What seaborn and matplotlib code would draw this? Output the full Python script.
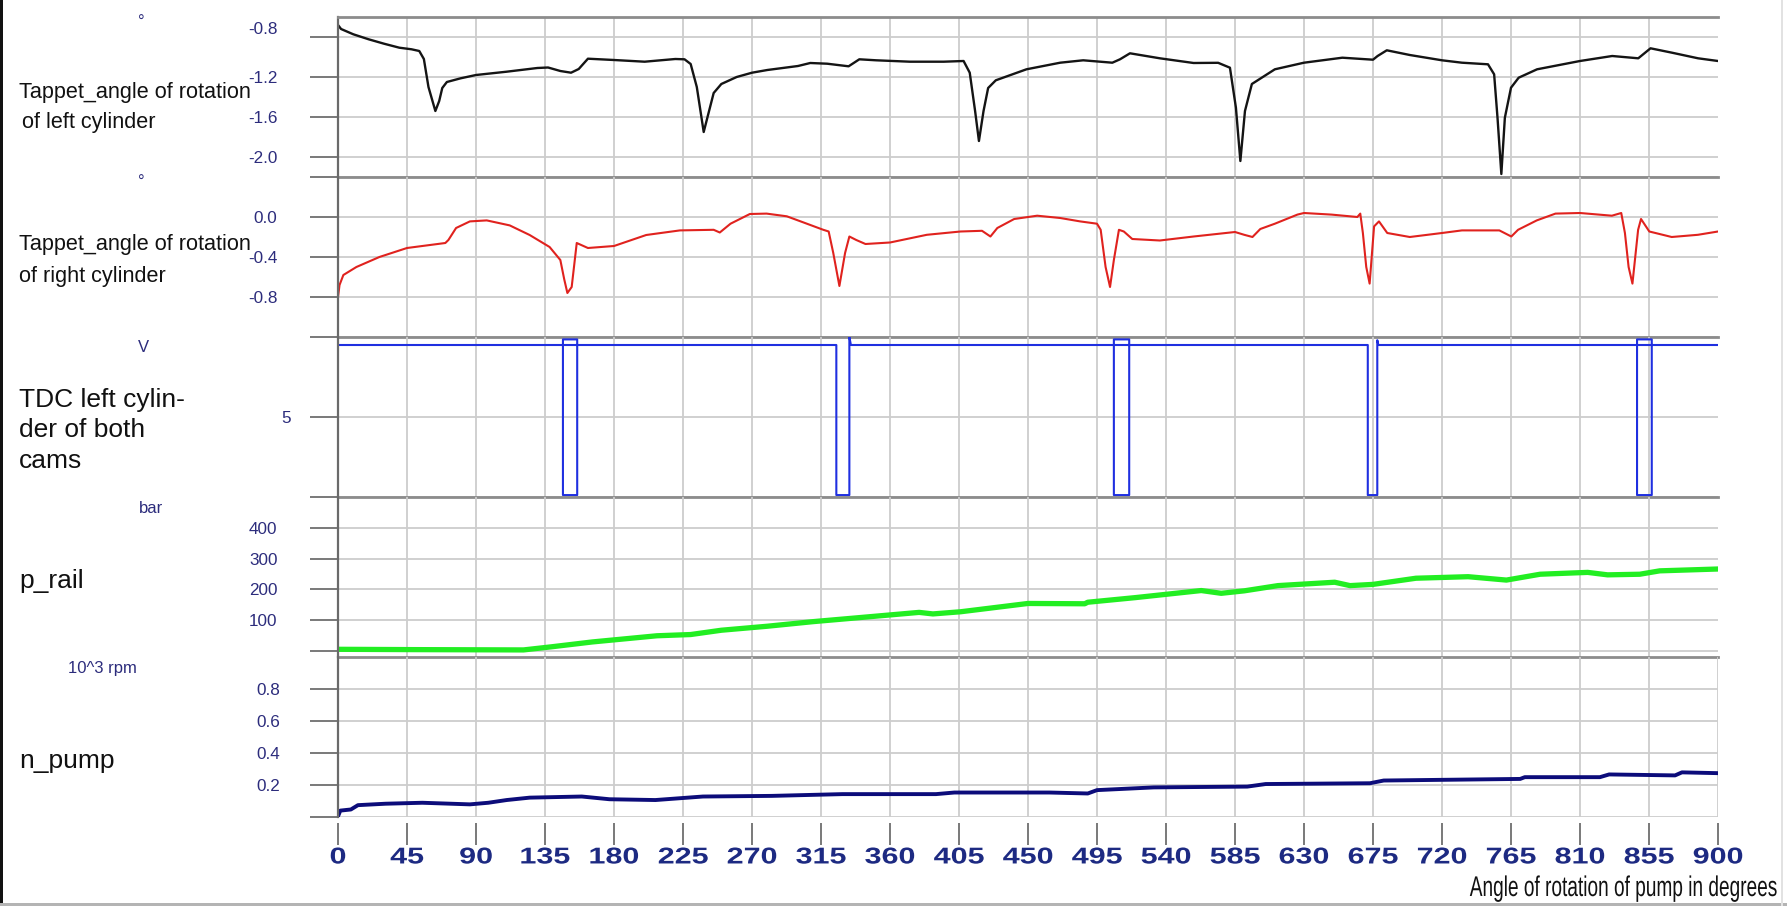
import numpy as np
import pandas as pd
import matplotlib
matplotlib.use("Agg")
import matplotlib.pyplot as plt
import seaborn as sns
from matplotlib.patheffects import AbstractPathEffect
from matplotlib.transforms import Affine2D, ScaledTranslation
from matplotlib.patches import Rectangle

# ---------------- data ----------------
X_TICKS = [0, 45, 90, 135, 180, 225, 270, 315, 360, 405, 450, 495, 540, 585,
           630, 675, 720, 765, 810, 855, 900]

LEFT_ANGLE = [0, 2, 10, 20, 30, 40, 48, 53, 56, 59, 63.5, 66, 68, 71, 80, 90, 110,
              130, 137, 145, 152, 157, 163, 180, 200, 220, 226, 230, 234, 238.5,
              242, 245, 250, 260, 270, 280, 300, 308, 319, 333, 340, 351, 373, 395,
              408, 412, 415.5, 418, 421, 424, 429, 449, 471, 486, 505, 510, 516.5,
              536, 558, 574, 581.7, 585.6, 588.5, 591.5, 596, 611, 630, 655, 675,
              678, 684, 699, 720, 733, 750, 754, 756.2, 758.7, 761, 765, 770, 782,
              810, 831, 848, 856, 870, 887, 900]
LEFT_VAL = [-0.68, -0.72, -0.773, -0.823, -0.867, -0.907, -0.923, -0.94, -1.02, -1.30,
            -1.54, -1.44, -1.31, -1.25, -1.213, -1.18, -1.147, -1.11, -1.105, -1.14,
            -1.157, -1.12, -1.017, -1.03, -1.047, -1.02, -1.023, -1.07, -1.30, -1.75,
            -1.54, -1.36, -1.27, -1.20, -1.157, -1.13, -1.09, -1.06, -1.067, -1.093,
            -1.023, -1.033, -1.047, -1.047, -1.04, -1.157, -1.54, -1.84, -1.54, -1.31,
            -1.233, -1.123, -1.057, -1.033, -1.057, -1.023, -0.963, -1.013, -1.06,
            -1.058, -1.107, -1.507, -2.04, -1.54, -1.27, -1.123, -1.057, -1.007,
            -1.027, -0.99, -0.933, -0.98, -1.033, -1.057, -1.073, -1.173, -1.607,
            -2.17, -1.607, -1.307, -1.207, -1.123, -1.04, -0.99, -1.013, -0.913,
            -0.957, -1.013, -1.04]

RIGHT_ANGLE = [0, 1, 3.5, 12, 27, 45, 70, 72, 77, 86, 97, 112, 125, 138, 145, 147.5,
               149.6, 152.4, 155.7, 163, 180, 201, 223, 245, 249, 256, 268.6, 279.5,
               292.7, 303.5, 316.5, 320, 323, 327, 330.7, 333.5, 338, 344, 360, 384,
               406, 420, 425.5, 430, 441, 456, 471, 484, 495, 497.4, 500.6, 503.5, 506,
               509.3, 512.5, 518, 536, 558, 585, 591, 596.4, 601.5, 611, 625.7, 630,
               648, 664.8, 666.7, 668.4, 670.6, 672.8, 675.7, 678.9, 684.3, 699, 720,
               733, 757.4, 765.2, 769.6, 781.8, 794, 810, 830.8, 836.9, 839.3, 841.7,
               844.2, 847.9, 849.8, 855.2, 869.8, 886.9, 900]
RIGHT_VAL = [-0.80, -0.68, -0.58, -0.50, -0.40, -0.31, -0.26, -0.23, -0.11, -0.044,
             -0.034, -0.084, -0.18, -0.30, -0.43, -0.62, -0.76, -0.70, -0.26, -0.31,
             -0.29, -0.18, -0.134, -0.128, -0.155, -0.067, 0.03, 0.034, 0.007, -0.054,
             -0.128, -0.145, -0.36, -0.69, -0.36, -0.195, -0.23, -0.27, -0.255,
             -0.178, -0.145, -0.138, -0.195, -0.11, -0.02, 0.013, -0.01, -0.044,
             -0.067, -0.128, -0.50, -0.70, -0.43, -0.128, -0.145, -0.22, -0.235,
             -0.195, -0.15, -0.178, -0.20, -0.12, -0.067, 0.024, 0.04, 0.024, 0.0,
             0.034, -0.16, -0.50, -0.666, -0.094, -0.044, -0.16, -0.20, -0.16, -0.134,
             -0.134, -0.195, -0.128, -0.034, 0.034, 0.04, 0.013, 0.04, -0.16, -0.50,
             -0.666, -0.128, -0.02, -0.145, -0.20, -0.178, -0.145]

TDC_ANGLE = [0, 146.7, 146.7, 156, 156, 146.7, 146.7, 156,
             325, 325, 333.5, 333.5, 334.5,
             506, 506, 516, 516, 506, 506, 516,
             671.6, 671.6, 677.8, 677.8, 678.5,
             847.2, 847.2, 856.8, 856.8, 847.2, 847.2, 856.8, 900]
TDC_VOLT = [9.5, 9.5, 9.85, 9.85, 0.12, 0.12, 9.5, 9.5,
            9.5, 0.12, 0.12, 10.0, 9.5,
            9.5, 9.85, 9.85, 0.12, 0.12, 9.5, 9.5,
            9.5, 0.12, 0.12, 9.8, 9.5,
            9.5, 9.85, 9.85, 0.12, 0.12, 9.5, 9.5, 9.5]

RAIL_ANGLE = [0, 50, 121, 139, 166, 208, 230, 250, 280, 310, 340, 379, 388, 406, 450,
              487, 489, 520, 563, 576, 591, 613, 650, 660, 675, 703, 737, 762, 784,
              815, 828, 849, 862, 900]
RAIL_BAR = [5, 4, 3, 13, 29, 49, 53, 67, 80, 95, 108, 125, 120, 127, 154, 153, 158,
            173, 196, 187, 195, 212, 223, 212, 216, 236, 241, 230, 249, 255, 247, 249,
            260, 266]

PUMP_ANGLE = [0, 1.5, 8.4, 13, 31, 55, 86, 98, 110, 125, 159, 177, 207, 238, 283,
              329, 390, 402, 464, 489, 495, 532, 593, 605, 673, 682, 771, 774, 823,
              829, 872, 876.5, 900]
PUMP_KRPM = [0.004, 0.04, 0.047, 0.074, 0.083, 0.089, 0.079, 0.089, 0.106, 0.121,
             0.128, 0.111, 0.106, 0.128, 0.132, 0.143, 0.143, 0.153, 0.153, 0.147,
             0.168, 0.185, 0.19, 0.206, 0.211, 0.228, 0.238, 0.249, 0.249, 0.266,
             0.26, 0.279, 0.274]

# ---------------- style ----------------
sns.set_style("white")
plt.rcParams['font.family'] = ['Liberation Sans', 'DejaVu Sans']


class StretchX(AbstractPathEffect):
    """Horizontally scale a text path around its centre / right edge."""
    def __init__(self, sx, anchor="center"):
        super().__init__()
        self._sx = sx
        self._anchor = anchor

    def draw_path(self, renderer, gc, tpath, affine, rgbFace=None):
        ext = tpath.get_extents(affine)
        if self._anchor == "right":
            cx = ext.x1
        elif self._anchor == "left":
            cx = ext.x0
        else:
            cx = 0.5 * (ext.x0 + ext.x1)
        aff = affine + Affine2D().translate(-cx, 0).scale(self._sx, 1.0).translate(cx, 0)
        renderer.draw_path(gc, tpath, aff, rgbFace)


W, H = 1787, 906
fig = plt.figure(figsize=(W / 100, H / 100), dpi=100)
fig.patch.set_facecolor("white")
L_PX, R_PX, TOP_PX, PANEL_PX = 338, 1718, 17, 160

axes = []
for i in range(5):
    top = TOP_PX + i * PANEL_PX
    ax = fig.add_axes([L_PX / W, 1 - (top + PANEL_PX) / H, (R_PX - L_PX) / W, PANEL_PX / H])
    axes.append(ax)

NAVY_TXT = "#2c2c7c"
TICK_C = "#6e6e6e"

df1 = pd.DataFrame({"angle": LEFT_ANGLE, "val": LEFT_VAL})
df2 = pd.DataFrame({"angle": RIGHT_ANGLE, "val": RIGHT_VAL})
df3 = pd.DataFrame({"angle": TDC_ANGLE, "val": TDC_VOLT})
df4 = pd.DataFrame({"angle": RAIL_ANGLE, "val": RAIL_BAR})
df5 = pd.DataFrame({"angle": PUMP_ANGLE, "val": PUMP_KRPM})

specs = [
    (df1, "#141414", 1.7, (-2.2, -0.6), [-2.2, -2.0, -1.6, -1.2, -0.8], ["", "-2.0", "-1.6", "-1.2", "-0.8"], 23.5),
    (df2, "#e0221e", 1.5, (-1.2, 0.4), [-1.2, -0.8, -0.4, 0.0], ["", "-0.8", "-0.4", "0.0"], 23.5),
    (df3, "#1f2fe0", 1.5, (0, 10), [0, 5], ["", "5"], 14.0),
    (df4, "#22ee22", 3.8, (-20, 500), [0, 100, 200, 300, 400], ["", "100", "200", "300", "400"], 23.5),
    (df5, "#0c0c7a", 2.8, (0, 1.0), [0, 0.2, 0.4, 0.6, 0.8], ["", "0.2", "0.4", "0.6", "0.8"], 21.5),
]

for ax, (df, col, lw, ylim, yt, ytl, pad) in zip(axes, specs):
    sns.lineplot(data=df, x="angle", y="val", ax=ax, color=col, linewidth=lw,
                 sort=False, estimator=None, legend=False)
    ax.set_xlim(0, 900)
    ax.set_ylim(*ylim)
    ax.set_xticks(X_TICKS)
    ax.set_yticks(yt)
    ax.set_yticklabels(ytl)
    ax.set_xlabel("")
    ax.set_ylabel("")
    ax.grid(True, color="#cdcdcd", lw=1.3)
    ax.set_axisbelow(True)
    ax.tick_params(axis="y", direction="out", length=20, width=1.3, color=TICK_C,
                   labelsize=12.3, labelcolor=NAVY_TXT, pad=pad, left=True)
    ax.spines["right"].set_visible(False)
    ax.spines["top"].set_visible(False)
    ax.spines["left"].set_color("#6a6a6a")
    ax.spines["left"].set_linewidth(1.6)
    ax.spines["bottom"].set_color("#8c8c8c")
    ax.spines["bottom"].set_linewidth(2.0)
    ax.get_xgridlines()[-1].set_visible(False)
    ax.patch.set_alpha(0)

axes[0].spines["top"].set_visible(True)
axes[0].spines["top"].set_color("#8c8c8c")
axes[0].spines["top"].set_linewidth(2.0)

for ax in axes[:4]:
    ax.tick_params(axis="x", length=0, labelbottom=False)

ax5 = axes[4]
ax5.spines["bottom"].set_visible(False)
ax5.spines["bottom"].set_position(("outward", 4))
ax5.tick_params(axis="x", direction="out", length=16, width=1.3, color=TICK_C,
                labelsize=16.5, labelcolor="#1d2a82", pad=0.5, bottom=True)
for t in ax5.xaxis.get_major_ticks():
    t.label1.set_fontweight("bold")
    t.label1.set_path_effects([StretchX(1.33)])

# -0.8 label sits slightly above its tick in the reference
lab = axes[0].yaxis.get_major_ticks()[-1].label1
lab.set_transform(lab.get_transform() + ScaledTranslation(0, 9 / 100, fig.dpi_scale_trans))


def ftext(x, y, s, **kw):
    fig.text(x / W, 1 - y / H, s, **kw)


BIG = 19
MID = 15.6
SMALL = 12
ftext(141.6, 22, "°", ha="center", va="center", fontsize=SMALL, color=NAVY_TXT)
ftext(19, 98.3, "Tappet_angle of rotation", va="baseline", fontsize=MID, color="#111111")
ftext(22, 128.3, "of left cylinder", va="baseline", fontsize=MID, color="#111111")
ftext(141.6, 182.3, "°", ha="center", va="center", fontsize=SMALL, color=NAVY_TXT)
ftext(19, 250, "Tappet_angle of rotation", va="baseline", fontsize=MID, color="#111111")
ftext(19, 281.7, "of right cylinder", va="baseline", fontsize=MID, color="#111111")
ftext(143.5, 351.7, "V", ha="center", va="baseline", fontsize=SMALL, color=NAVY_TXT)
ftext(19, 406.7, "TDC left cylin-", va="baseline", fontsize=BIG, color="#111111")
ftext(19, 437.3, "der of both", va="baseline", fontsize=BIG, color="#111111")
ftext(19, 468.3, "cams", va="baseline", fontsize=BIG, color="#111111")
ftext(151, 513.3, "bar", ha="center", va="baseline", fontsize=SMALL, color=NAVY_TXT)
ftext(19, 588.3, "p_rail", va="baseline", fontsize=BIG, color="#111111")
ftext(102, 673.5, "10^3 rpm", ha="center", va="baseline", fontsize=SMALL, color=NAVY_TXT)
ftext(19, 768.3, "n_pump", va="baseline", fontsize=BIG, color="#111111")
ftext(1778, 896, "Angle of rotation of pump in degrees", ha="right", va="baseline",
      fontsize=20.5, color="#111111", path_effects=[StretchX(0.67, "right")])

# screenshot frame
fig.add_artist(Rectangle((0, 0), 3 / W, 1, transform=fig.transFigure, color="#111111", lw=0))
fig.add_artist(Rectangle((0, 0), 1, 3 / H, transform=fig.transFigure, color="#b4b4b4", lw=0))
fig.add_artist(Rectangle((1781 / W, 0), 2 / W, 1, transform=fig.transFigure, color="#e2e2e2", lw=0))

fig.savefig("out.png", dpi=100, facecolor="white")
